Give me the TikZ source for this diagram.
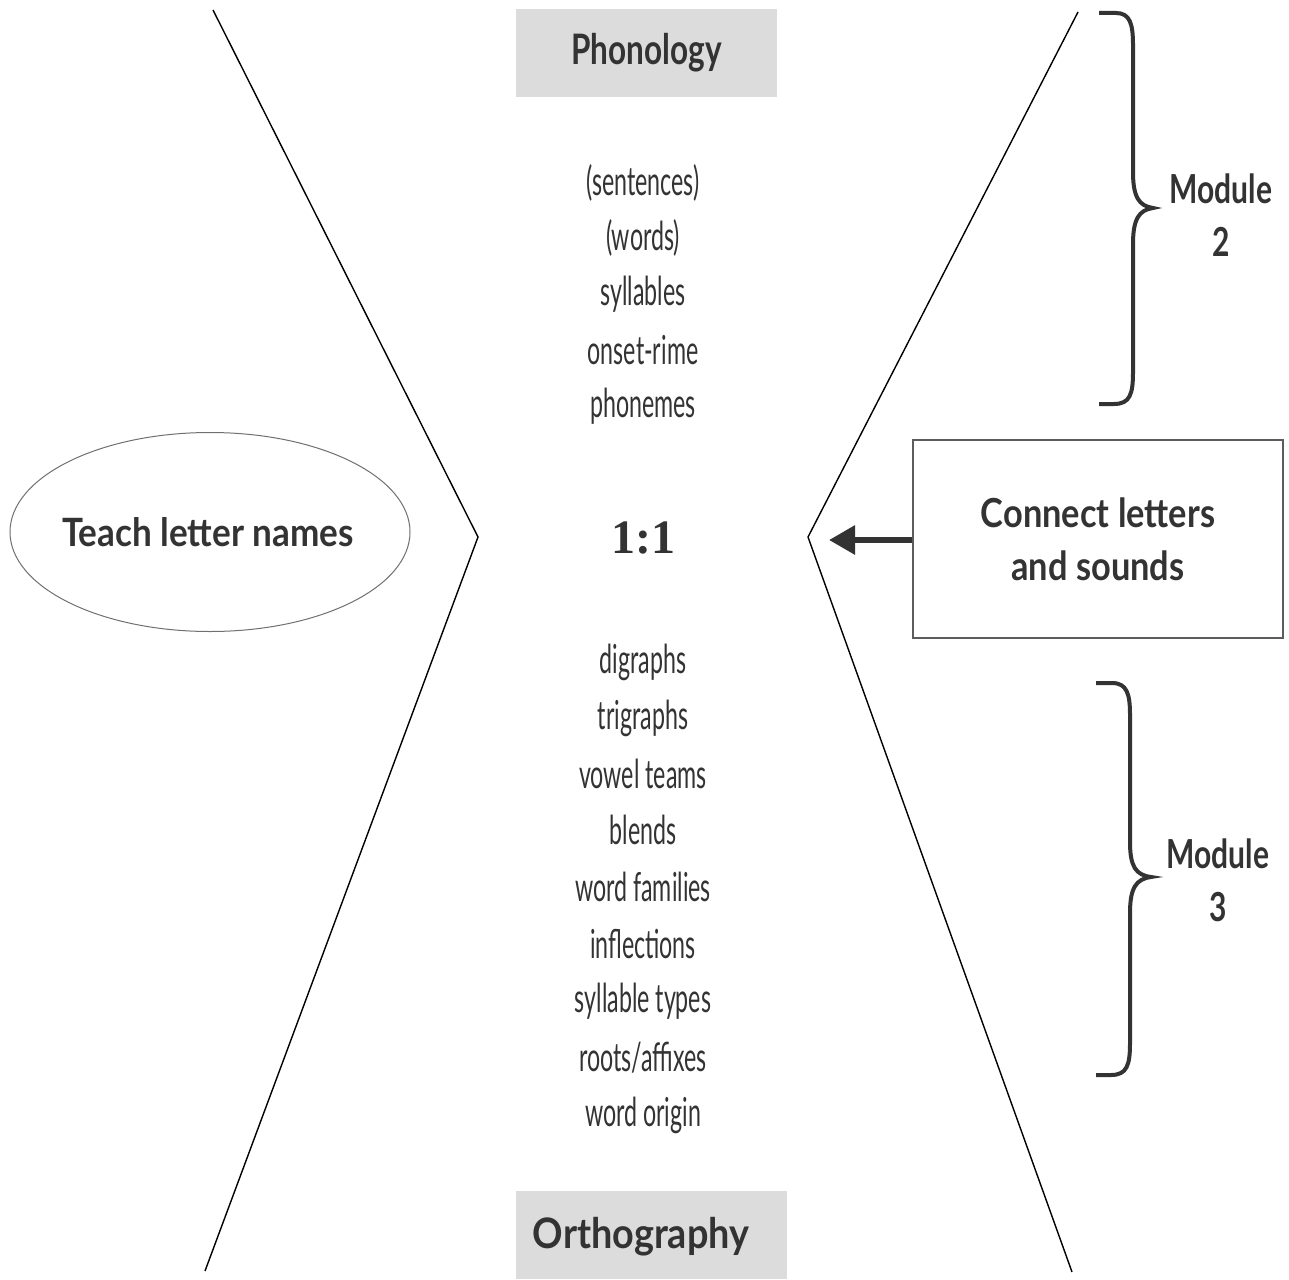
\documentclass[tikz,border=0pt]{standalone}
\usepackage{fontspec}
\setmainfont{Lato}
\newfontfamily\labelfont[FakeStretch=0.75]{Lato Bold}
\newfontfamily\widelabelfont[FakeStretch=0.9]{Lato Bold}
\newfontfamily\midlabelfont[FakeStretch=0.86]{Lato Bold}
\newfontfamily\listfont[FakeStretch=0.58]{Lato}
\newfontfamily\serifbold{Liberation Serif Bold}
\usetikzlibrary{shapes.geometric,arrows.meta}
\definecolor{ink}{HTML}{333333}
\definecolor{boxgray}{HTML}{DCDCDC}
\tikzset{
  chev/.style={line width=1.4pt, black},
  graybox/.style={fill=boxgray, draw=none},
  headlbl/.style={font=\labelfont\fontsize{42}{48}\selectfont, text=ink, inner sep=0},
  listitem/.style={font=\listfont\fontsize{40}{44}\selectfont, text=ink, inner sep=0, anchor=center},
  bracepath/.style={line width=4pt, draw=ink, line cap=butt},
  modlbl/.style={font=\labelfont\fontsize{40}{53}\selectfont, text=ink, align=center, inner sep=0},
}
\begin{document}
\begin{tikzpicture}[x=1pt,y=-1pt]
\useasboundingbox[fill=white] (0,0) rectangle (1289,1279);

% chevrons
\coordinate (lt) at (213,10);
\coordinate (lm) at (478,537);
\coordinate (lb) at (205,1271);
\coordinate (rt) at (1078,12);
\coordinate (rm) at (808,537);
\coordinate (rb) at (1072,1272);
\draw[chev] (lt) -- (lm) -- (lb);
\draw[chev] (rt) -- (rm) -- (rb);

% header boxes
\fill[graybox] (516,9) rectangle (777,97);
\node[headlbl] (phon) at (646.5,53) {Phonology};
\fill[graybox] (516,1191) rectangle (787,1279);
\node[headlbl, font=\widelabelfont\fontsize{42}{48}\selectfont] (orth) at (641,1237) {Orthography};

% list
\node[listitem] (l1) at (643,183) {(sentences)};
\node[listitem] (l2) at (643,238) {(words)};
\node[listitem] (l3) at (643,294) {syllables};
\node[listitem] (l4) at (643,350) {onset-rime};
\node[listitem] (l5) at (643,406) {phonemes};

\node[font=\serifbold\fontsize{48}{54}\selectfont, text=ink, inner sep=0] (ratio) at (643,538) {1:1};

\node[listitem] (m1) at (643,662) {digraphs};
\node[listitem] (m2) at (643,718) {trigraphs};
\node[listitem] (m3) at (643,774) {vowel\ teams};
\node[listitem] (m4) at (643,830) {blends};
\node[listitem] (m5) at (643,887) {word\ families};
\node[listitem] (m6) at (643,944) {inflections};
\node[listitem] (m7) at (643,1001) {syllable\ types};
\node[listitem] (m8) at (643,1058) {roots/affixes};
\node[listitem] (m9) at (643,1115) {word\ origin};

% ellipse
\node[inner sep=0, font=\widelabelfont\fontsize{39}{44}\selectfont, text=ink] (teach) at (208,532) {Teach letter names};
\draw[draw=ink!70, line width=1pt] (210,532) ellipse [x radius=200, y radius=99.5];

% rectangle
\node[draw=ink!80, line width=1.2pt, rectangle, minimum width=370, minimum height=198, inner sep=0,
      font=\midlabelfont\fontsize{40}{53}\selectfont, text=ink, align=center] (conn) at (1098,539) {Connect letters\\and sounds};
\coordinate (tip) at (829,540);
\draw[line width=6pt, draw=ink, -{Triangle[length=26pt,width=28pt]}] (conn.west |- tip) -- (tip);

% braces
\draw[bracepath] (1099,13) -- (1116,13) .. controls (1130,13) and (1133,24) .. (1133,45)
  -- (1133,172) .. controls (1133,197) and (1139,206) .. (1153,208)
  .. controls (1139,210) and (1133,219) .. (1133,244)
  -- (1133,372) .. controls (1133,394) and (1130,404) .. (1114,404) -- (1099,404);
\node[modlbl] (mod2) at (1221,215) {Module\\2};

\draw[bracepath] (1096,683) -- (1112,683) .. controls (1127,683) and (1130,694) .. (1130,715)
  -- (1130,842) .. controls (1130,867) and (1136,875) .. (1151,877)
  .. controls (1136,879) and (1130,888) .. (1130,913)
  -- (1130,1043) .. controls (1130,1065) and (1127,1075) .. (1111,1075) -- (1096,1075);
\node[modlbl] (mod3) at (1218,880) {Module\\3};
\end{tikzpicture}
\end{document}
